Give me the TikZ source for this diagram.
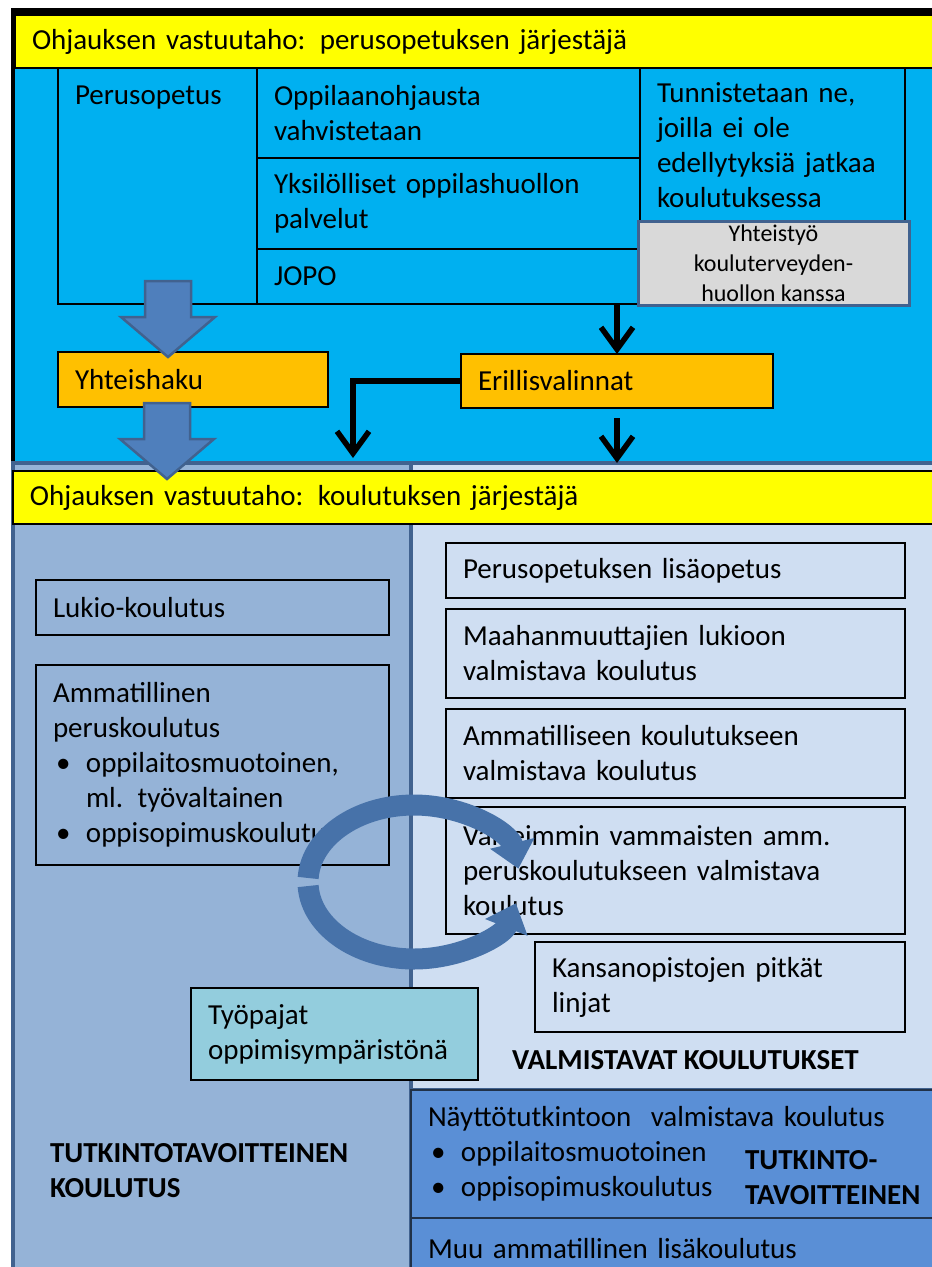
\documentclass[tikz,border=0pt]{standalone}
\usepackage{fontspec}
\setmainfont{Carlito}
\usetikzlibrary{arrows.meta,positioning}

\definecolor{bandyellow}{HTML}{FFFF00}
\definecolor{schoolcyan}{HTML}{00B0F0}
\definecolor{pickorange}{HTML}{FFC000}
\definecolor{panelblue}{HTML}{95B3D7}
\definecolor{panellight}{HTML}{CFDEF2}
\definecolor{paneldark}{HTML}{5A8FD6}
\definecolor{edgeblue}{HTML}{41628F}
\definecolor{arrowblue}{HTML}{4F7FBC}
\definecolor{workteal}{HTML}{93CDDD}
\definecolor{notegrey}{HTML}{D9D9D9}

\newcommand{\listdot}{\makebox[33pt][l]{\hspace*{3pt}\textbullet}}

\begin{document}
\begin{tikzpicture}[
    x=1pt, y=-1pt,
    every node/.style={font=\fontsize{29}{35}\selectfont, inner xsep=17pt, inner ysep=0pt, outer sep=0pt},
    cell/.style={rectangle, draw, line width=1.3pt, anchor=north west, align=left},
    band/.style={cell, fill=bandyellow, minimum height=53pt, text width=900pt},
    pick/.style={cell, fill=pickorange, minimum height=55pt},
    panel/.style={rectangle, draw=edgeblue, line width=4pt, anchor=north west},
    heading/.style={anchor=west, align=left, inner sep=0pt, font=\fontsize{29}{35}\selectfont\bfseries},
    thinarrow/.style={-{Straight Barb[length=22pt,width=32pt]}, line width=5.5pt},
    fatarrow/.style={fill=arrowblue, draw=edgeblue, line width=2.5pt},
    roundarrow/.style={-{Triangle[width=44pt,length=26pt]}, line width=21pt, draw=arrowblue!90!black}
]
    \useasboundingbox (0,0) rectangle (932,1267);
    \clip (0,0) rectangle (932,1267);

    % upper part: basic education
    \fill[schoolcyan] (15,15) rectangle (945,462);
    \fill (11,8) rectangle (945,15);
    \fill (11,8) rectangle (15,462);
    \node[band] (ownerA) at (15,15) {Ohjauksen vastuutaho: perusopetuksen järjestäjä};

    \node[cell, text width=165pt, text height=19pt, text depth=183pt, inner ysep=17pt] (perus) at (58,68) {Perusopetus};
    \node[cell, text width=349pt, minimum height=90pt] (ohjaus) at (257,68) {Oppilaanohjausta\\vahvistetaan};
    \node[cell, text width=349pt, minimum height=91pt, below=0pt of ohjaus] (yksil) {Yksilölliset oppilashuollon\\palvelut};
    \node[cell, text width=349pt, minimum height=55pt, below=0pt of yksil] (jopo) {JOPO};
    \node[cell, text width=231pt, minimum height=154pt] (tunnist) at (640,68) {Tunnistetaan ne,\\joilla ei ole\\edellytyksiä jatkaa\\koulutuksessa};
    \node[cell, draw=edgeblue, line width=3pt, fill=notegrey, minimum width=271pt, minimum height=84pt,
          align=center, inner xsep=4pt, font=\fontsize{24}{30}\selectfont] (yhteis) at (638,221) {Yhteistyö\\kouluterveyden-\\huollon kanssa};

    \node[pick, text width=236pt] (yhteishaku) at (58,352) {Yhteishaku};
    \node[pick, text width=278pt, minimum height=54pt] (eril) at (461,354) {Erillisvalinnat};

    % lower part: education provider
    \node[panel, fill=panelblue, minimum width=398pt, minimum height=830pt] (degree) at (13,463) {};
    \node[panel, fill=panellight, minimum width=540pt, minimum height=627pt] (prep) at (411,463) {};
    \node[band] (ownerB) at (13,471) {Ohjauksen vastuutaho: koulutuksen järjestäjä};

    \node[cell, text width=319pt, minimum height=55pt] (lukio) at (36,580) {Lukio-koulutus};
    \node[cell, text width=319pt, minimum height=200pt] (ammat) at (36,665) {Ammatillinen\\peruskoulutus\\\listdot oppilaitosmuotoinen,\\\hspace*{33pt}ml. työvaltainen\\\listdot oppisopimuskoulutus};

    \node[cell, text width=425pt, minimum height=55pt] (lisaop) at (446,543) {Perusopetuksen lisäopetus};
    \node[cell, text width=425pt, minimum height=89pt, below=11pt of lisaop] (maahan) {Maahanmuuttajien lukioon\\valmistava koulutus};
    \node[cell, text width=425pt, minimum height=89pt, below=11pt of maahan] (ammval) {Ammatilliseen koulutukseen\\valmistava koulutus};
    \node[cell, text width=425pt, minimum height=127pt, below=9pt of ammval] (vaik) {Vaikeimmin vammaisten amm.\\peruskoulutukseen valmistava\\koulutus};
    \node[cell, text width=336pt, minimum height=90pt, below=8pt of vaik.south east, anchor=north east] (kansan) {Kansanopistojen pitkät\\linjat};

    \node[cell, fill=workteal, text width=253pt, minimum height=92pt] (tyopaja) at (191,988) {Työpajat\\oppimisympäristönä};
    \node[heading] (valmhead) at (512,1060) {VALMISTAVAT KOULUTUKSET};
    \node[heading] (tutkhead) at (50,1171) {TUTKINTOTAVOITTEINEN\\KOULUTUS};

    \node[cell, fill=paneldark, draw=edgeblue!50!black, text width=500pt, minimum height=128pt] (naytto) at (411,1090) {Näyttötutkintoon\ \ valmistava koulutus\\\listdot oppilaitosmuotoinen\\\listdot oppisopimuskoulutus};
    \node[cell, fill=paneldark, draw=edgeblue!50!black, text width=500pt, minimum height=62pt, below=0pt of naytto] (muu) {Muu ammatillinen lisäkoulutus};
    \node[heading] (tutkright) at (745,1178) {TUTKINTO-\\TAVOITTEINEN};

    % fat arrows
    \draw[fatarrow] ([xshift=110pt,yshift=23pt]perus.south west) -- ++(23,0) -- ++(0,36) -- ++(24,0) -- ++(-47,40) -- ++(-47,-40) -- ++(24,0) -- ++(0,-36) -- cycle;
    \draw[fatarrow] ([xshift=109pt,yshift=4pt]yhteishaku.south west) -- ++(23,0) -- ++(0,36) -- ++(24,0) -- ++(-47,40) -- ++(-47,-40) -- ++(24,0) -- ++(0,-36) -- cycle;

    % black arrows
    \coordinate (drop) at (353,458);
    \draw[thinarrow] (eril.north |- jopo.south) -- (eril.north);
    \draw[thinarrow] ([yshift=-10pt]eril.south) -- (eril.south |- prep.north);
    \draw[thinarrow] (eril.west) -| (drop);

    % round arrows
    \coordinate (hub) at (414,882);
    \draw[roundarrow] (hub) ++(183:106 and 77) arc[start angle=183, end angle=350, x radius=106, y radius=77];
    \draw[roundarrow] (hub) ++(177:106 and 77) arc[start angle=177, end angle=16, x radius=106, y radius=77];
\end{tikzpicture}
\end{document}
